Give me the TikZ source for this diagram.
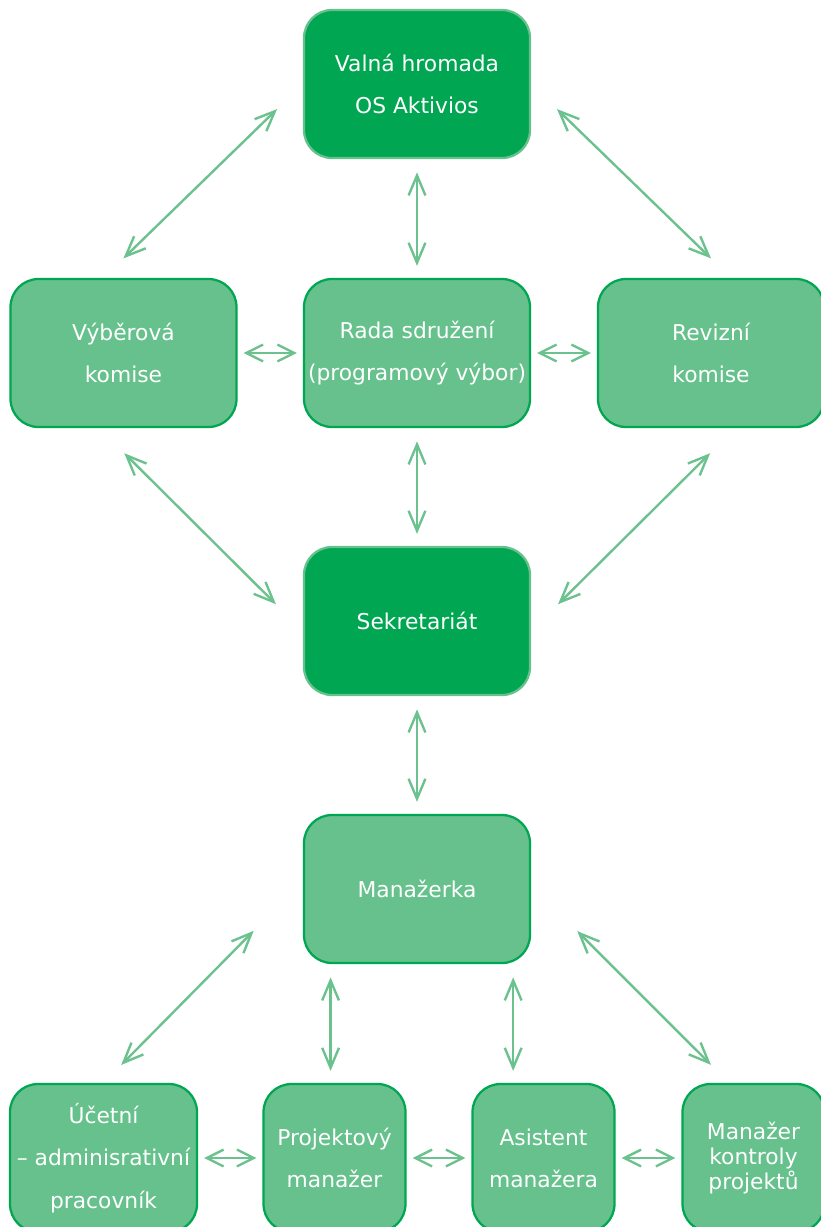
\documentclass[tikz,border=0pt]{standalone}
\usepackage{fontspec}
\setmainfont{DejaVu Sans}
\usetikzlibrary{arrows.meta}
\definecolor{darkgreen}{RGB}{0,166,81}
\definecolor{lightgreen}{RGB}{102,193,140}
\definecolor{linkgreen}{RGB}{108,194,142}

\begin{document}
\begin{tikzpicture}[
  box/.style={rectangle,rounded corners=0.7cm,line width=1.6pt,align=center,inner sep=2pt,
    text=white,font=\fontsize{15.5}{30}\selectfont,minimum height=3.7cm},
  headbox/.style={box,fill=darkgreen,draw=lightgreen,minimum width=5.65cm},
  unitbox/.style={box,fill=lightgreen,draw=darkgreen,minimum width=5.65cm},
  staffbox/.style={box,fill=lightgreen,draw=darkgreen,minimum width=3.55cm},
  link/.style={linkgreen,line width=1.7pt,{Straight Barb[length=0.5cm,width=0.42cm]}-{Straight Barb[length=0.5cm,width=0.42cm]}},
  vlink/.style={link,shorten <=0.33cm,shorten >=0.3cm},
  hlink/.style={linkgreen,line width=1.7pt,{Straight Barb[length=0.42cm,width=0.42cm]}-{Straight Barb[length=0.42cm,width=0.42cm]},
    shorten <=0.15cm,shorten >=0.15cm}]
\useasboundingbox (0,0) rectangle (20.525,-30.675);

% vedeni
\node[headbox] (valna) at (10.425,-2.1) {Valná hromada\\OS Aktivios};
\node[unitbox] (vyber) at (3.0875,-8.825) {Výběrová\\komise};
\node[unitbox] (rada) at (10.425,-8.825) {Rada sdružení\\(programový výbor)};
\node[unitbox] (revizni) at (17.775,-8.825) {Revizní\\komise};
\node[headbox] (sekr) at (10.425,-15.525) {Sekretariát};
\node[unitbox] (manaz) at (10.425,-22.225) {Manažerka};

% pracovnici
\node[staffbox,minimum width=4.675cm] (ucetni) at (2.5875,-28.95) {Účetní\\– adminisrativní\\pracovník};
\node[staffbox] (projekt) at (8.3625,-28.95) {Projektový\\manažer};
\node[staffbox] (asist) at (13.5875,-28.95) {Asistent\\manažera};
\node[staffbox,font=\fontsize{15.5}{18}\selectfont] (kontrol) at (18.8375,-28.95) {Manažer\\kontroly\\projektů};

% vazby
\draw[link,shorten <=0.9cm,shorten >=0.7cm] (valna.west) -- (vyber.105);
\draw[link,shorten <=0.9cm,shorten >=0.7cm] (valna.east) -- (revizni.75);
\draw[vlink] (valna.south) -- (rada.north);
\draw[hlink] (vyber.east) -- (rada.west);
\draw[hlink] (rada.east) -- (revizni.west);
\draw[vlink] (rada.south) -- (sekr.north);
\draw[link,shorten <=0.89cm,shorten >=0.95cm] (vyber.252) -- (sekr.185);
\draw[link,shorten <=0.89cm,shorten >=0.95cm] (revizni.288) -- (sekr.-5);
\draw[vlink] (sekr.south) -- (manaz.north);

\draw[link,shorten <=1.75cm,shorten >=0.63cm] (manaz.176) -- (ucetni.north);
\draw[link,shorten <=1.63cm,shorten >=0.64cm] (manaz.2) -- (kontrol.108);
\draw[vlink] (manaz.-139) -- (manaz.-139 |- projekt.north);
\draw[vlink] (manaz.-38) -- (manaz.-38 |- asist.north);
\draw[hlink] (ucetni.east) -- (projekt.west);
\draw[hlink] (projekt.east) -- (asist.west);
\draw[hlink] (asist.east) -- (kontrol.west);
\end{tikzpicture}
\end{document}
